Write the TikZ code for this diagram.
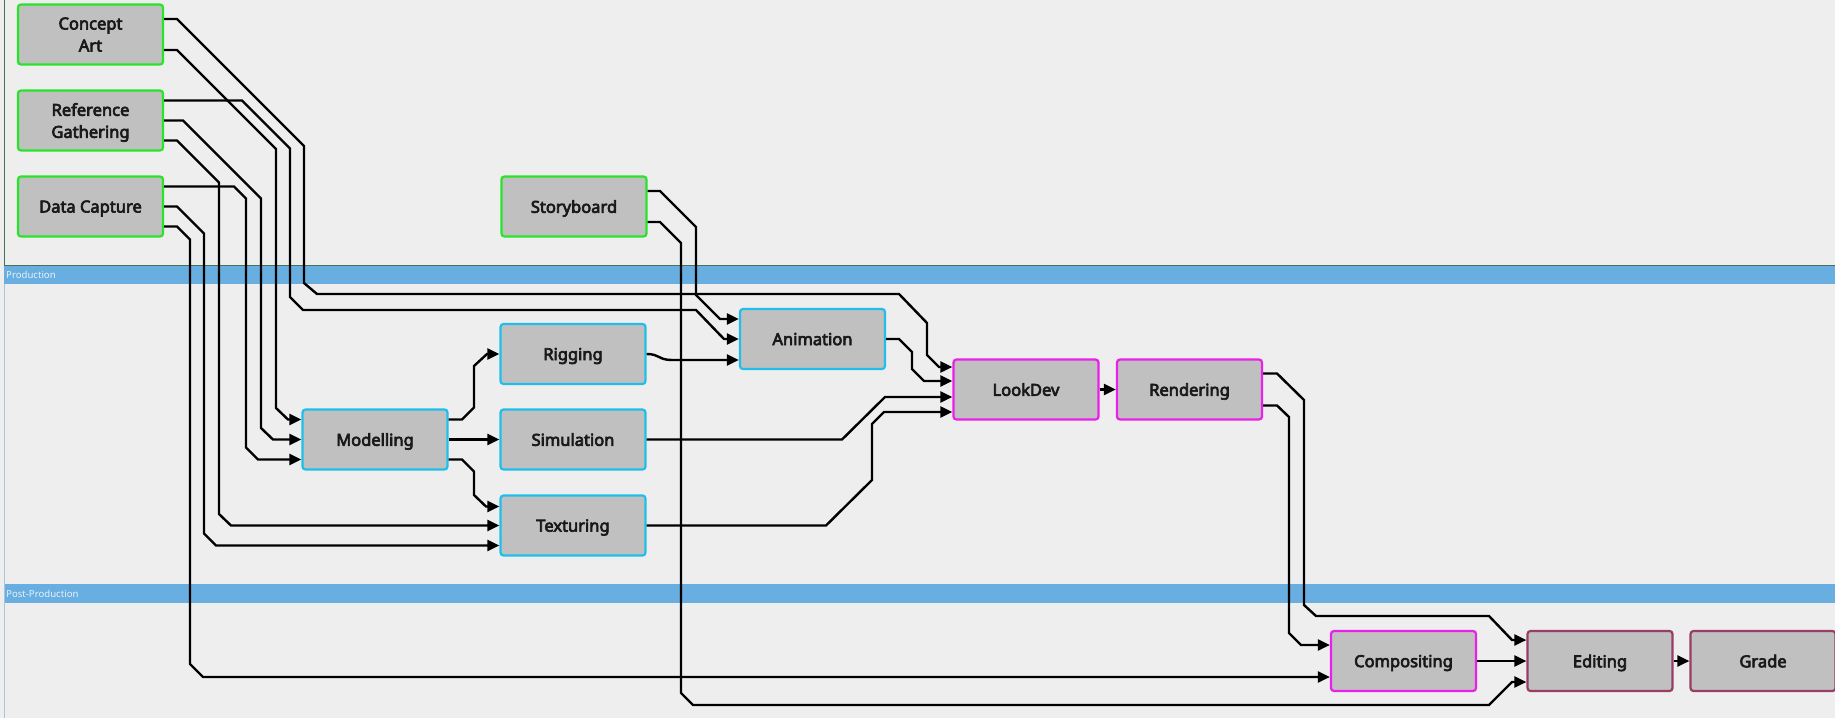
\documentclass[tikz,border=0pt]{standalone}
\usepackage{fontspec}
\setmainfont{Noto Sans}
\newfontfamily\taskfont{Noto Sans}[FakeBold=4]
\usetikzlibrary{arrows.meta}

\definecolor{canvas}{RGB}{238,238,238}
\definecolor{lane}{RGB}{104,174,224}
\definecolor{lanetext}{RGB}{232,242,250}
\definecolor{laneedge}{RGB}{70,115,85}
\definecolor{laneside}{RGB}{175,195,215}
\definecolor{boxfill}{RGB}{192,192,192}
\definecolor{pre}{RGB}{40,228,40}
\definecolor{prod}{RGB}{32,190,235}
\definecolor{look}{RGB}{232,32,232}
\definecolor{post}{RGB}{150,62,100}

\begin{document}
\begin{tikzpicture}[x=1pt, y=-1pt,
        task/.style={draw, fill=boxfill, rounded corners=3pt, line width=2.2pt,
            minimum width=145pt, minimum height=60pt, inner sep=0pt, align=center,
            text depth=0pt, font=\fontsize{16.5}{22}\taskfont, text=black!90},
        wire/.style={line width=2.4pt, -{Triangle[length=12pt, width=11pt]}},
        bandlabel/.style={anchor=west, inner sep=0pt, text=lanetext,
            font=\fontsize{9.6}{10}\selectfont}]
                \fill[canvas] (0,0) rectangle (1835,718);
                \useasboundingbox (0,0) rectangle (1835,718);

                % lanes
                \fill[lane] (4,265) rectangle (1835,284);
                \fill[lane] (4,584) rectangle (1835,603);
                \draw[laneedge, line width=1pt] (4.5,0) -- (4.5,265) -- (1835,265);
                \draw[laneside, line width=1pt] (4.5,284) -- (4.5,718);
                \node[bandlabel] (production) at (6,275) {Production};
                \node[bandlabel] (postproduction) at (6,594) {Post-Production};

                \draw
                    (  90.5,  34.5) node[task, draw=pre](concept){Concept\\Art}
                    (  90.5, 120.5) node[task, draw=pre](reference){Reference\\Gathering}
                    (  90.5, 206.5) node[task, draw=pre](capture){Data Capture}
                    ( 574,   206.5) node[task, draw=pre](storyboard){Storyboard}

                    ( 375,   439.5) node[task, draw=prod](modelling){Modelling}
                    ( 573,   354  ) node[task, draw=prod](rigging){Rigging}
                    ( 573,   439.5) node[task, draw=prod](simulation){Simulation}
                    ( 573,   525.5) node[task, draw=prod](texturing){Texturing}
                    ( 812.5, 339  ) node[task, draw=prod](animation){Animation}

                    (1026,   389.5) node[task, draw=look](lookdev){LookDev}
                    (1189.5, 389.5) node[task, draw=look](rendering){Rendering}
                    (1403.5, 661  ) node[task, draw=look](compositing){Compositing}

                    (1600,   661  ) node[task, draw=post](editing){Editing}
                    (1763,   661  ) node[task, draw=post](grade){Grade}
                ;

                \draw [wire] ([yshift=15.5pt]concept.east) -- (177,19) -- (304,146) -- (304,283) -- (317,294)
                    -- (899,294) -- (927,323) -- (927,355) -- (939,367) -- ([yshift=22.5pt]lookdev.west);
                \draw [wire] ([yshift=-15.5pt]concept.east) -- (177,50) -- (276,149) -- (276,408) -- (288,419.5)
                    -- ([yshift=20pt]modelling.west);
                \draw [wire] ([yshift=20pt]reference.east) -- (242,100.5) -- (290,148.5) -- (290,297) -- (303,310)
                    -- (696,310) -- (724,339) -- (animation.west);
                \draw [wire] (reference.east) -- (183,120.5) -- (261,198.5) -- (261,428) -- (273,439.5) -- (modelling.west);
                \draw [wire] ([yshift=-20pt]reference.east) -- (177,140.5) -- (219,182.5) -- (219,514) -- (231,525.5)
                    -- (texturing.west);
                \draw [wire] ([yshift=20pt]capture.east) -- (234,186.5) -- (246,198.5) -- (246,447.5) -- (258,459.5)
                    -- ([yshift=-20pt]modelling.west);
                \draw [wire] (capture.east) -- (177,206.5) -- (204,233.5) -- (204,533.5) -- (216,545.5)
                    -- ([yshift=-20pt]texturing.west);
                \draw [wire] ([yshift=-20pt]capture.east) -- (177,226.5) -- (190,239.5) -- (190,664) -- (203,677)
                    -- ([yshift=-16pt]compositing.west);
                \draw [wire] ([yshift=15.5pt]storyboard.east) -- (660,191) -- (696,227) -- (696,295) -- (720,319)
                    -- ([yshift=20pt]animation.west);
                \draw [wire] ([yshift=-15.5pt]storyboard.east) -- (660,222) -- (681,243) -- (681,693) -- (693,705)
                    -- (1489,705) -- (1512,682) -- ([yshift=-21pt]editing.west);

                \draw [wire] ([yshift=20pt]modelling.east) -- (462,419.5) -- (474,407.5) -- (474,366) -- (487,354)
                    -- (rigging.west);
                \draw [wire] (modelling.east) -- (simulation.west);
                \draw [wire] ([yshift=-20pt]modelling.east) -- (462,459.5) -- (474,471.5) -- (474,495) -- (486,506.5)
                    -- ([yshift=19pt]texturing.west);
                \draw [wire] (rigging.east) .. controls (660,354) and (658,360) .. (672,360)
                    -- ([yshift=-21pt]animation.west);
                \draw [wire] (animation.east) -- (899,339) -- (912,352) -- (912,369) -- (924,381)
                    -- ([yshift=8.5pt]lookdev.west);
                \draw [wire] (simulation.east) -- (842,439.5) -- (885,397) -- ([yshift=-7.5pt]lookdev.west);
                \draw [wire] (texturing.east) -- (826,525.5) -- (872,480) -- (872,424) -- (884,412)
                    -- ([yshift=-22.5pt]lookdev.west);

                \draw [wire] (lookdev) -- (rendering);
                \draw [wire] ([yshift=16pt]rendering.east) -- (1277,373.5) -- (1304,400) -- (1304,605) -- (1316,616)
                    -- (1489,616) -- (1512,640) -- ([yshift=21pt]editing.west);
                \draw [wire] ([yshift=-16pt]rendering.east) -- (1277,405.5) -- (1289,417) -- (1289,633) -- (1301,645)
                    -- ([yshift=16pt]compositing.west);
                \draw [wire] (compositing) -- (editing);
                \draw [wire] (editing) -- (grade);
            \end{tikzpicture}
\end{document}
